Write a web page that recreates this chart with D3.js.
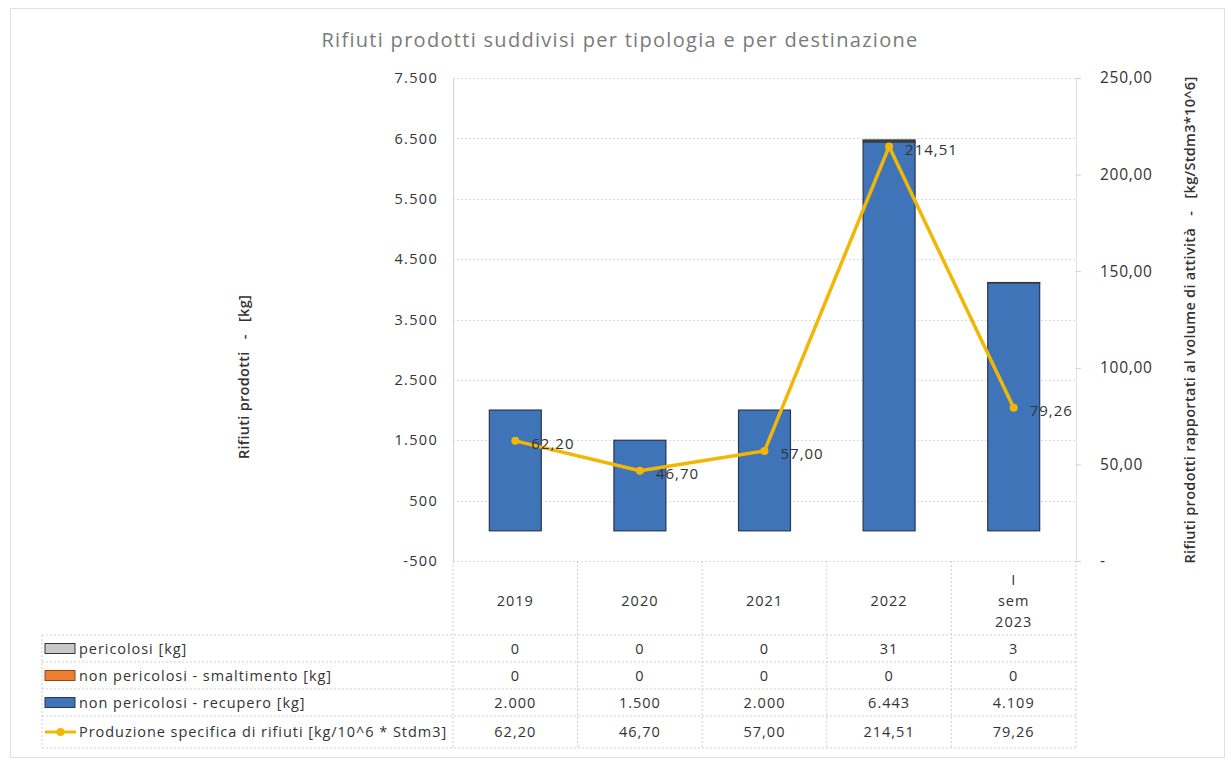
<!DOCTYPE html>
<html><head><meta charset="utf-8">
<script src="https://cdn.jsdelivr.net/npm/d3@7"></script>
<style>body{margin:0;background:#fff}svg{display:block}text{font-family:"Open Sans",Lato,sans-serif}</style>
</head><body><svg id="c" width="1231" height="770"></svg>
<script>
const categories = ["2019","2020","2021","2022","I sem 2023"];
const categoryLines = [["2019"],["2020"],["2021"],["2022"],["I","sem","2023"]];
const pericolosi = [0,0,0,31,3];
const smaltimento = [0,0,0,0,0];
const recupero = [2000,1500,2000,6443,4109];
const produzione = [62.20,46.70,57.00,214.51,79.26];
const leftTicks = [-500,500,1500,2500,3500,4500,5500,6500,7500];
const rightTicks = [0,50,100,150,200,250];
const seriesNames = ["pericolosi [kg]","non pericolosi - smaltimento [kg]","non pericolosi - recupero [kg]","Produzione specifica di rifiuti [kg/10^6 * Stdm3]"];
const titleText = "Rifiuti prodotti suddivisi per tipologia e per destinazione";
const leftTitle = "Rifiuti prodotti   -   [kg]";
const rightTitle = "Rifiuti prodotti rapportati al volume di attività   -   [kg/Stdm3*10^6]";

const loc = d3.formatLocale({decimal:",",thousands:".",grouping:[3],currency:["","€"],minus:"-"});
const fInt = loc.format(",d"), f2 = loc.format(",.2f");

const svg = d3.select("#c");
const L = 453, R = 1076, T = 78, B = 561;
const x = d3.scaleBand().domain(categories).range([L,R]).paddingInner(0.583).paddingOuter(0.2915);
const yL = d3.scaleLinear().domain([-500,7500]).range([B,T]);
const yR = d3.scaleLinear().domain([0,250]).range([B,T]);
const step = x.step();
const txt = "#333";

// frame
svg.append("rect").attr("x",10.5).attr("y",8.5).attr("width",1214).attr("height",749).attr("fill","none").attr("stroke","#e0e0e0");

// title
svg.append("text").attr("x",620).attr("y",47).attr("text-anchor","middle").attr("font-size",20).attr("fill","#7a7a7a").attr("letter-spacing",1.3).text(titleText);

// gridlines
svg.append("g").selectAll("line").data(leftTicks).join("line")
  .attr("x1",L).attr("x2",R).attr("y1",d=>Math.round(yL(d))+0.5).attr("y2",d=>Math.round(yL(d))+0.5)
  .attr("stroke","#dcdcdc").attr("stroke-dasharray","2,2");

// left axis
const gL = svg.append("g").attr("transform",`translate(${L},0)`)
  .call(d3.axisLeft(yL).tickValues(leftTicks).tickFormat(fInt).tickSize(0).tickPadding(15));
gL.select(".domain").attr("stroke","#d0d0d0");
gL.selectAll("text").attr("font-size",14.5).attr("letter-spacing",1.3).attr("fill",txt).attr("font-family","Open Sans");

// right axis
const gR = svg.append("g").attr("transform",`translate(${R},0)`)
  .call(d3.axisRight(yR).tickValues(rightTicks).tickFormat(d=>d===0?"-":f2(d)).tickSize(5).tickPadding(19));
gR.select(".domain").attr("stroke","#e0e0e0");
gR.selectAll(".tick line").attr("stroke","#d0d0d0");
gR.selectAll("text").attr("font-size",15.5).attr("letter-spacing",0.7).attr("fill",txt).attr("font-family","Open Sans");

// axis titles
svg.append("text").attr("transform","translate(249,377) rotate(-90)").attr("text-anchor","middle")
  .attr("font-size",14.5).attr("font-weight","600").attr("fill",txt).attr("letter-spacing",0.3).attr("xml:space","preserve").text(leftTitle);
svg.append("text").attr("transform","translate(1195,320) rotate(-90)").attr("text-anchor","middle")
  .attr("font-size",14.5).attr("font-weight","600").attr("fill",txt).attr("letter-spacing",0.3).attr("xml:space","preserve").text(rightTitle);

// stacked bars
const rows = categories.map((c,i)=>({cat:c, pericolosi:pericolosi[i], smaltimento:smaltimento[i], recupero:recupero[i]}));
const stack = d3.stack().keys(["recupero","smaltimento","pericolosi"])(rows);
const colors = {recupero:"#3f74b9", smaltimento:"#ed7d31", pericolosi:"#c8c8c8"};
const strokes = {recupero:"#26374f", smaltimento:"#8a4a1c", pericolosi:"#333"};
stack.forEach(s=>{
  svg.append("g").selectAll("rect").data(s.filter(d=>d[1]-d[0]>0)).join("rect")
    .attr("x",d=>x(d.data.cat)).attr("width",x.bandwidth())
    .attr("y",d=>yL(d[1])).attr("height",d=>yL(d[0])-yL(d[1]))
    .attr("fill",s.key==="pericolosi"?"#555":colors[s.key]).attr("stroke",strokes[s.key]).attr("stroke-width",1.2);
});

// line
const cx = c=>x(c)+x.bandwidth()/2;
const line = d3.line().x((d,i)=>cx(categories[i])).y(d=>yR(d));
svg.append("path").datum(produzione).attr("d",line).attr("fill","none").attr("stroke","#f2b705").attr("stroke-width",3.5).attr("stroke-linejoin","round");
svg.append("g").selectAll("circle").data(produzione).join("circle")
  .attr("cx",(d,i)=>cx(categories[i])).attr("cy",d=>yR(d)).attr("r",4).attr("fill","#f2b705");
svg.append("g").selectAll("text").data(produzione).join("text")
  .attr("x",(d,i)=>cx(categories[i])+16).attr("y",d=>yR(d)+8).attr("font-size",15).attr("letter-spacing",1).attr("fill",txt).text(d=>f2(d));

// data table
const tL = 42, hdrTop = B, rowTops = [635,662,689,716], tBottom = 748;
const vx = d3.range(categories.length+1).map(i=>L+i*step);
const tg = svg.append("g").attr("stroke","#cfcfcf").attr("stroke-dasharray","2,2");
vx.forEach(v=>tg.append("line").attr("x1",v).attr("x2",v).attr("y1",hdrTop).attr("y2",tBottom));
tg.append("line").attr("x1",tL).attr("x2",tL).attr("y1",rowTops[0]).attr("y2",tBottom);
rowTops.concat([tBottom]).forEach(y=>tg.append("line").attr("x1",tL).attr("x2",R).attr("y1",y).attr("y2",y));

// header labels
categoryLines.forEach((ls,i)=>{
  const n = ls.length;
  ls.forEach((t,j)=>{
    svg.append("text").attr("x",cx(categories[i])).attr("y",606 + (j-(n-1)/2)*21).attr("text-anchor","middle")
      .attr("font-size",14.5).attr("letter-spacing",1).attr("fill",txt).text(t);
  });
});

// rows
const tableData = [pericolosi.map(fInt), smaltimento.map(fInt), recupero.map(fInt), produzione.map(f2)];
tableData.forEach((vals,r)=>{
  const yc = (rowTops[r] + (rowTops[r+1]||tBottom))/2 + 5;
  vals.forEach((v,i)=>svg.append("text").attr("x",cx(categories[i])).attr("y",yc).attr("text-anchor","middle")
    .attr("font-size",14.5).attr("letter-spacing",1).attr("fill",txt).text(v));
  svg.append("text").attr("x",79).attr("y",yc).attr("font-size",14.5).attr("letter-spacing",0.95).attr("fill",txt).text(seriesNames[r]);
  const yy = yc-5;
  if(r<3){
    const key = ["pericolosi","smaltimento","recupero"][r];
    svg.append("rect").attr("x",45).attr("y",yy-5).attr("width",30).attr("height",10).attr("fill",colors[key]).attr("stroke",strokes[key]);
  } else {
    svg.append("line").attr("x1",45).attr("x2",76).attr("y1",yy).attr("y2",yy).attr("stroke","#f2b705").attr("stroke-width",3);
    svg.append("circle").attr("cx",60.5).attr("cy",yy).attr("r",4).attr("fill","#f2b705");
  }
});
</script></body></html>
